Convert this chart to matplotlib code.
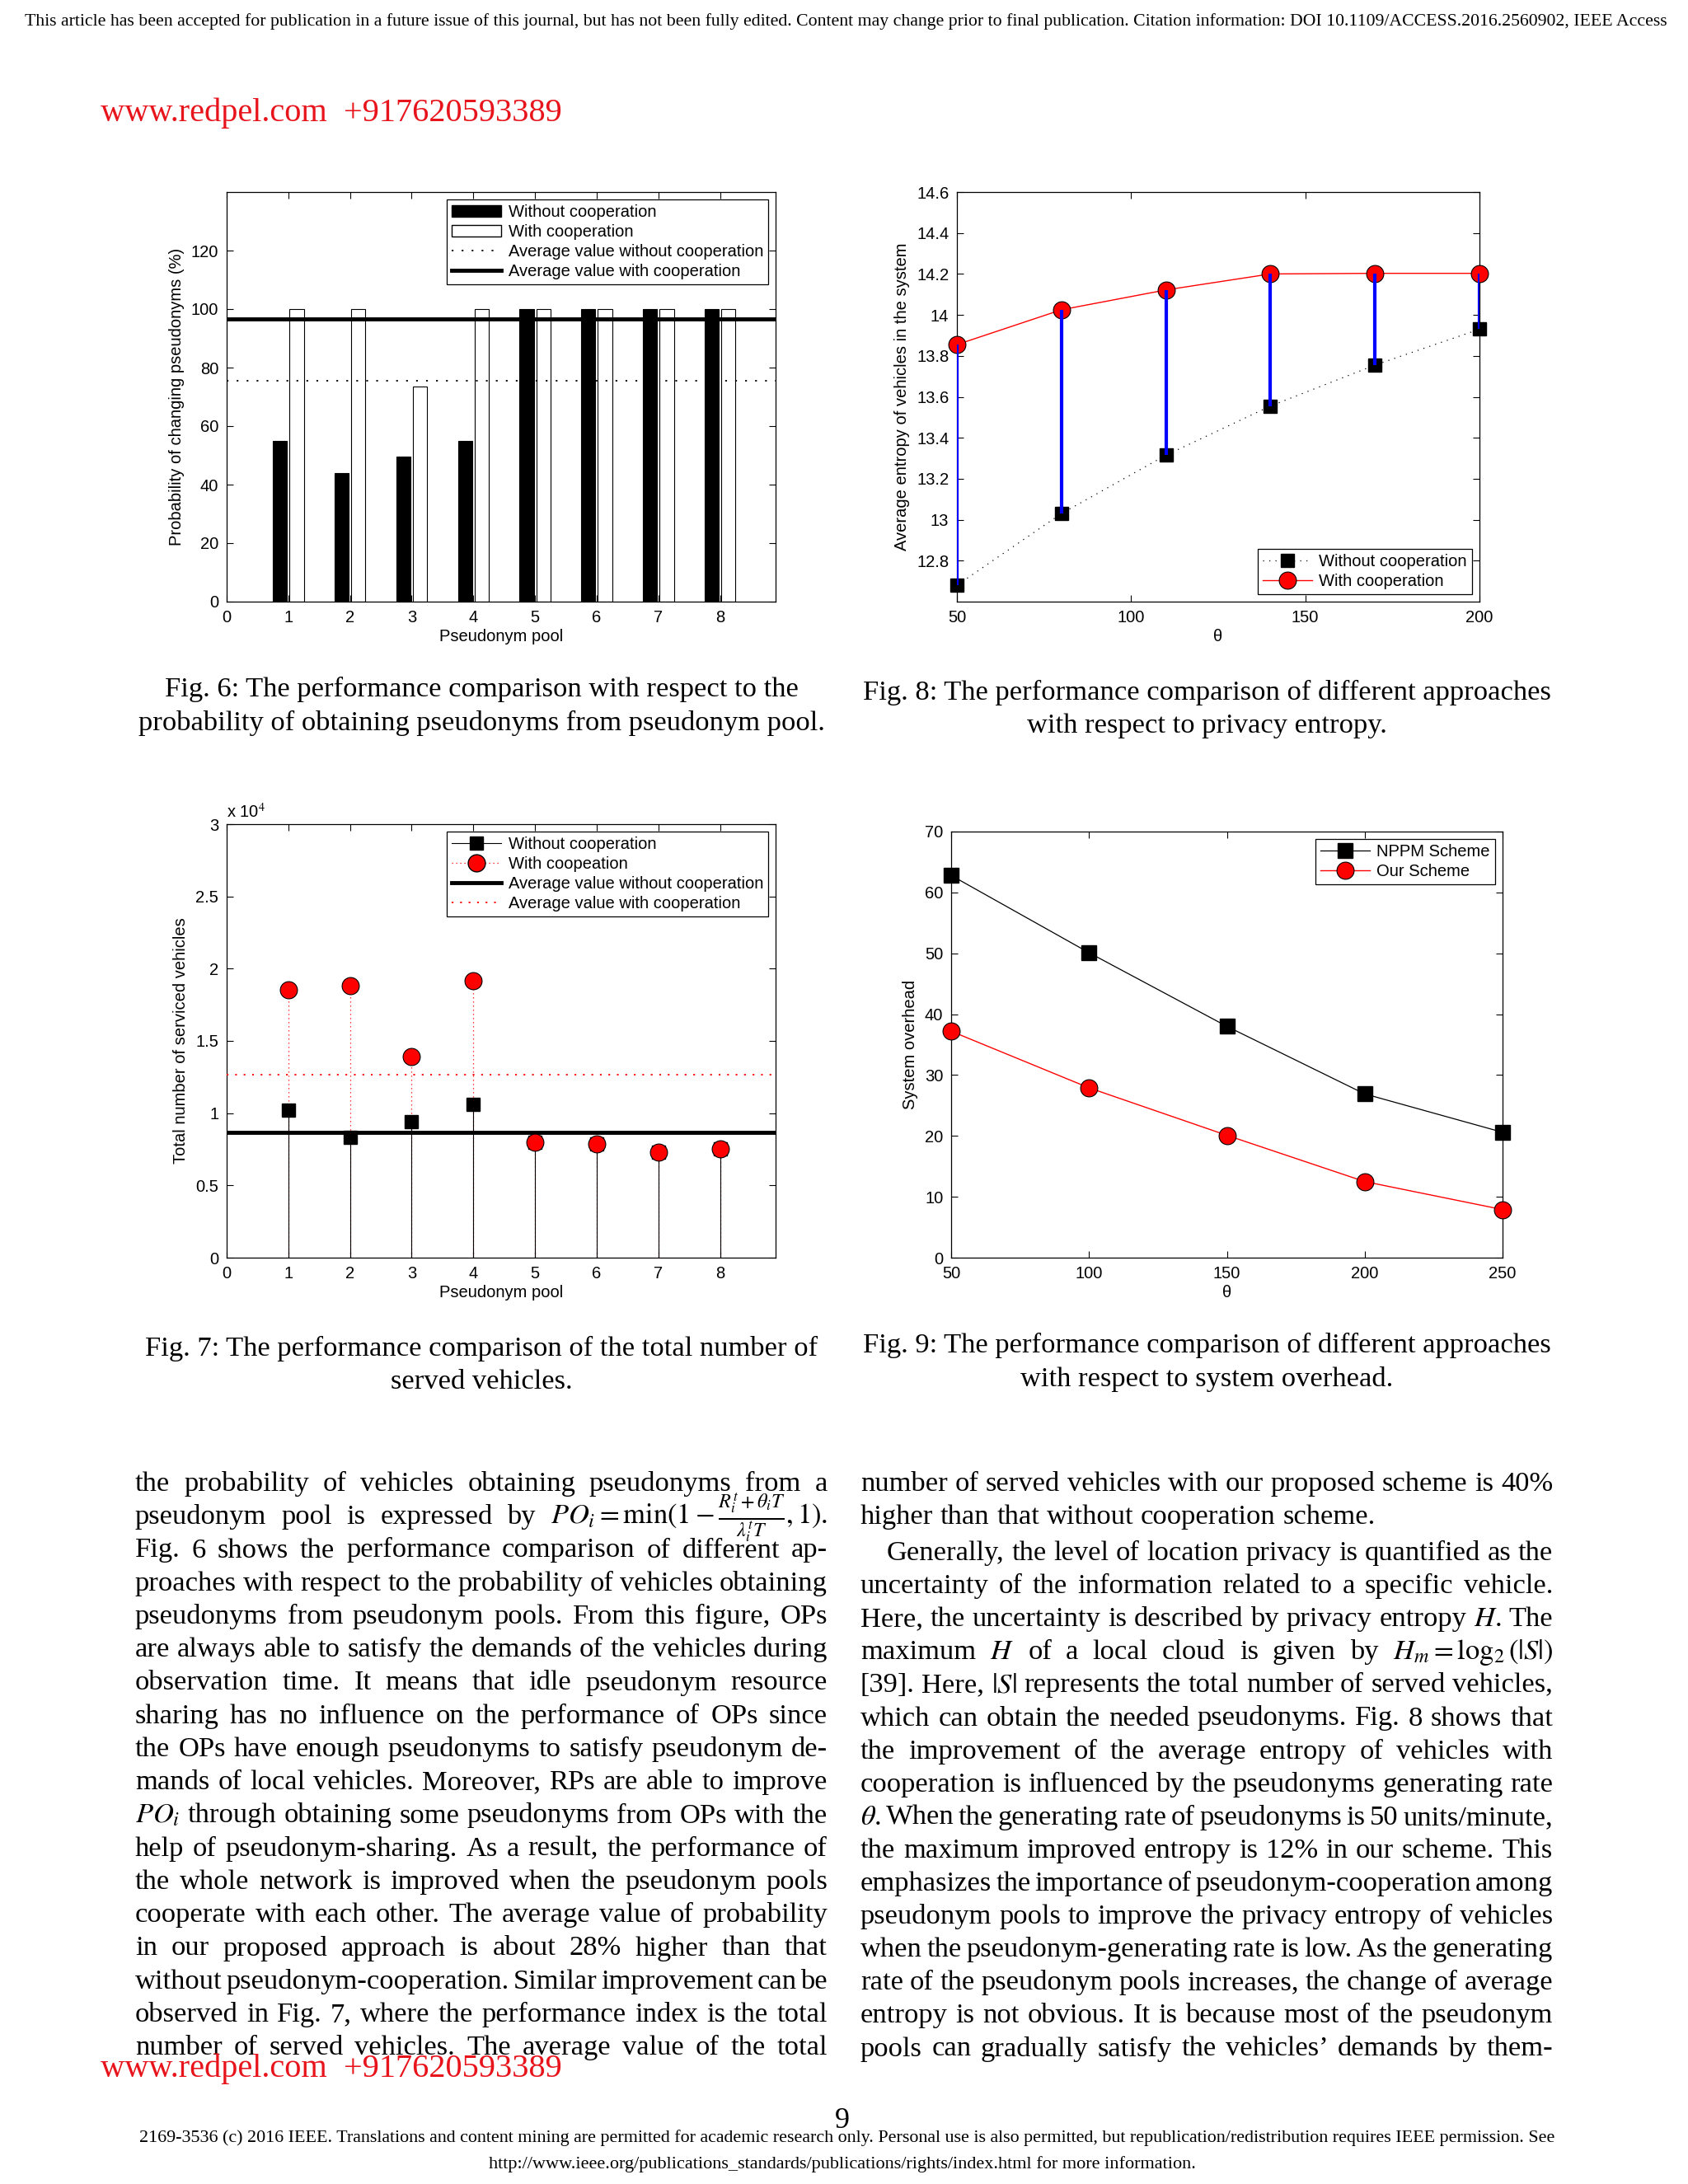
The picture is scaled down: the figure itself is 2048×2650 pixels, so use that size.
import re
import numpy as np
import matplotlib
matplotlib.use('Agg')
import matplotlib.pyplot as plt
from matplotlib.lines import Line2D
from matplotlib.patches import Patch
from matplotlib.legend_handler import HandlerLine2D
from matplotlib.ticker import FormatStrFormatter, FuncFormatter

W, H = 2048, 2650

# Fig. 6 - probability of changing pseudonyms (%)
pools = np.arange(1, 9)
prob_without = [55, 44, 49.5, 55, 100, 100, 100, 100]
prob_with = [100, 100, 73.5, 100, 100, 100, 100, 100]

# Fig. 8 - average entropy vs theta
theta_entropy = [50, 80, 110, 140, 170, 200]
entropy_without = [12.68, 13.03, 13.315, 13.555, 13.755, 13.93]
entropy_with = [13.855, 14.025, 14.122, 14.2, 14.203, 14.203]

# Fig. 7 - total number of served vehicles
served_without = [10210, 8340, 9400, 10590, 7960, 7890, 7280, 7530]
served_with = [18550, 18840, 13930, 19160, 7960, 7890, 7280, 7530]

# Fig. 9 - system overhead vs theta
theta_overhead = [50, 100, 150, 200, 250]
overhead_nppm = [62.8, 50.1, 38.0, 26.9, 20.6]
overhead_ours = [37.2, 27.9, 20.1, 12.5, 7.9]

plt.rcParams['font.family'] = 'Liberation Sans'
plt.rcParams['mathtext.fontset'] = 'stix'

CHART = 14.5
BODY = 24.8
SERIF = 'Liberation Serif'

fig = plt.figure(figsize=(W / 100, H / 100), dpi=100)
fig.patch.set_facecolor('white')
renderer = fig.canvas.get_renderer()


def fx(x):
    return x / W


def fy(y):
    return 1 - y / H


def put(x, y, s, **kw):
    return fig.text(fx(x), fy(y), s, **kw)


def width_of(t):
    return t.get_window_extent(renderer).width


def fit_text(s, x0, x1, y, color='black', family=SERIF):
    t = put(x0, y, s, fontsize=10, family=family, color=color, va='baseline')
    t.set_fontsize(10 * (x1 - x0) / width_of(t))
    return t


# a word, or a $...$ chunk with whatever punctuation sticks to it
TOKEN = re.compile(r'[^\s$]*\$[^$]*\$\S*|\S+')


def body_line(s, x0, x1, y, justify=True, indent=0):
    words = TOKEN.findall(s)
    objs = [put(0, y, w, fontsize=BODY, family=SERIF, va='baseline') for w in words]
    widths = [width_of(o) for o in objs]
    start = x0 + indent
    if justify and len(words) > 1:
        gap = (x1 - start - sum(widths)) / (len(words) - 1)
    else:
        gap = 0.25 * BODY * 100 / 72
    x = start
    for o, w in zip(objs, widths):
        o.set_x(fx(x))
        x += w + gap


def axes_px(left, top, right, bottom):
    return fig.add_axes([left / W, 1 - bottom / H, (right - left) / W, (bottom - top) / H])


def matlab_style(ax):
    ax.tick_params(direction='in', top=True, right=True, length=6, width=0.8,
                   labelsize=CHART, pad=7)
    for s in ax.spines.values():
        s.set_linewidth(0.9)


class MarkerRight(HandlerLine2D):
    # stem-style legend entry: marker sits near the right end of the line
    def get_xdata(self, legend, xdescent, ydescent, width, height, fontsize):
        xdata, _ = super().get_xdata(legend, xdescent, ydescent, width, height, fontsize)
        return xdata, np.array([-xdescent + 0.72 * width])


def legend(ax, handles, labels, loc, handler_map=None):
    lg = ax.legend(handles, labels, loc=loc, fontsize=CHART, frameon=True, fancybox=False,
                   framealpha=1, edgecolor='black', borderpad=0.3, labelspacing=0.25,
                   handletextpad=0.4, borderaxespad=0.45, handlelength=3.0,
                   handler_map=handler_map)
    lg.get_frame().set_linewidth(0.9)
    return lg


# ---------------- page header / watermark ----------------
fit_text('This article has been accepted for publication in a future issue of this journal, '
         'but has not been fully edited. Content may change prior to final publication. '
         'Citation information: DOI 10.1109/ACCESS.2016.2560902, IEEE Access', 30, 2019, 31)
fit_text('www.redpel.com  +917620593389', 122, 681, 147, color='#e8141b')

# ---------------- Fig. 6 ----------------
ax6 = axes_px(275, 233, 941, 730)
bw = 0.23
ax6.bar(pools - 0.135, prob_without, bw, color='black', edgecolor='black', linewidth=0.8, zorder=2)
ax6.bar(pools + 0.135, prob_with, bw, color='white', edgecolor='black', linewidth=0.8, zorder=2)
dots = (0, (1.2, 5.5))
ax6.axhline(np.mean(prob_without), color='black', ls=dots, lw=1.3, zorder=3)
ax6.axhline(np.mean(prob_with), color='black', lw=3.5, zorder=3)
ax6.set_xlim(0, 8.9)
ax6.set_ylim(0, 140)
ax6.set_xticks(range(0, 9))
ax6.set_yticks(range(0, 121, 20))
matlab_style(ax6)
ax6.set_xlabel('Pseudonym pool', fontsize=CHART, labelpad=3)
ax6.set_ylabel('Probability of changing pseudonyms (%)', fontsize=CHART, labelpad=6)
legend(ax6,
       [Patch(facecolor='black', edgecolor='black'),
        Patch(facecolor='white', edgecolor='black'),
        Line2D([], [], color='black', ls=dots, lw=1.3),
        Line2D([], [], color='black', lw=3.5)],
       ['Without cooperation', 'With cooperation',
        'Average value without cooperation', 'Average value with cooperation'],
       'upper right')

# ---------------- Fig. 8 ----------------
ax8 = axes_px(1161, 233, 1795, 730)
ax8.plot(theta_entropy, entropy_without, ls=(0, (1, 5)), color='black', lw=0.9,
         marker='s', ms=12, mfc='black', mec='black', clip_on=False, zorder=3)
ax8.plot(theta_entropy, entropy_with, '-', color='red', lw=1.0, marker='o', ms=15,
         mfc='red', mec='black', mew=0.8, clip_on=False, zorder=3)
ax8.vlines(theta_entropy, entropy_without, entropy_with, color='blue', lw=3, zorder=4)
ax8.set_xlim(50, 200)
ax8.set_ylim(12.6, 14.6)
ax8.set_xticks([50, 100, 150, 200])
ax8.set_yticks(np.arange(12.8, 14.61, 0.2))
ax8.yaxis.set_major_formatter(FormatStrFormatter('%g'))
matlab_style(ax8)
ax8.set_xlabel('θ', fontsize=CHART, labelpad=3)
ax8.set_ylabel('Average entropy of vehicles in the system', fontsize=CHART, labelpad=6)
legend(ax8,
       [Line2D([], [], ls=(0, (1, 5)), color='black', lw=0.9, marker='s', ms=12, mfc='black'),
        Line2D([], [], color='red', lw=1.0, marker='o', ms=15, mfc='red', mec='black', mew=0.8)],
       ['Without cooperation', 'With cooperation'], 'lower right')

# ---------------- Fig. 7 ----------------
ax7 = axes_px(275, 1000, 941, 1526)
red_dots = (0, (1, 3))
ax7.vlines(pools, 0, served_with, color='red', ls=red_dots, lw=0.9, zorder=2)
ax7.vlines(pools, 0, served_without, color='black', lw=0.8, zorder=2)
ax7.axhline(np.mean(served_without), color='black', lw=3.5, zorder=3)
ax7.axhline(np.mean(served_with), color='red', ls=(0, (1.2, 4.5)), lw=1.3, zorder=3)
ax7.plot(pools, served_without, 's', color='black', ms=12, zorder=4)
ax7.plot(pools, served_with, 'o', mfc='red', mec='black', mew=0.8, ms=15, zorder=5)
ax7.set_xlim(0, 8.9)
ax7.set_ylim(0, 30000)
ax7.set_xticks(range(0, 9))
ax7.set_yticks(np.arange(0, 30001, 5000))
ax7.yaxis.set_major_formatter(FuncFormatter(lambda v, p: f'{v / 1e4:g}'))
matlab_style(ax7)
ax7.text(0, 1.008, 'x 10$^{4}$', transform=ax7.transAxes, fontsize=CHART, va='bottom', ha='left')
ax7.set_xlabel('Pseudonym pool', fontsize=CHART, labelpad=3)
ax7.set_ylabel('Total number of serviced vehicles', fontsize=CHART, labelpad=6)
stem_black = Line2D([], [], color='black', lw=0.8, marker='s', ms=12, mfc='black')
stem_red = Line2D([], [], color='red', ls=red_dots, lw=0.9, marker='o', ms=15, mfc='red', mec='black')
legend(ax7,
       [stem_black, stem_red,
        Line2D([], [], color='black', lw=3.5),
        Line2D([], [], color='red', ls=(0, (1.2, 4.5)), lw=1.3)],
       ['Without cooperation', 'With coopeation',
        'Average value without cooperation', 'Average value with cooperation'],
       'upper right', handler_map={stem_black: MarkerRight(), stem_red: MarkerRight()})

# ---------------- Fig. 9 ----------------
ax9 = axes_px(1154, 1009, 1823, 1526)
ax9.plot(theta_overhead, overhead_nppm, '-', color='black', lw=0.9, marker='s', ms=13,
         mfc='black', mec='black', clip_on=False, zorder=3)
ax9.plot(theta_overhead, overhead_ours, '-', color='red', lw=1.0, marker='o', ms=15,
         mfc='red', mec='black', mew=0.8, clip_on=False, zorder=3)
ax9.set_xlim(50, 250)
ax9.set_ylim(0, 70)
ax9.set_xticks(range(50, 251, 50))
ax9.set_yticks(range(0, 71, 10))
matlab_style(ax9)
ax9.set_xlabel('θ', fontsize=CHART, labelpad=3)
ax9.set_ylabel('System overhead', fontsize=CHART, labelpad=6)
legend(ax9,
       [Line2D([], [], color='black', lw=0.9, marker='s', ms=13, mfc='black'),
        Line2D([], [], color='red', lw=1.0, marker='o', ms=15, mfc='red', mec='black', mew=0.8)],
       ['NPPM Scheme', 'Our Scheme'], 'upper right')

# ---------------- captions ----------------
captions = [
    (584, [845, 886], ['Fig. 6: The performance comparison with respect to the',
                       'probability of obtaining pseudonyms from pseudonym pool.']),
    (1464, [849, 889], ['Fig. 8: The performance comparison of different approaches',
                        'with respect to privacy entropy.']),
    (584, [1645, 1685], ['Fig. 7: The performance comparison of the total number of',
                         'served vehicles.']),
    (1464, [1641, 1682], ['Fig. 9: The performance comparison of different approaches',
                          'with respect to system overhead.']),
]
for cx, ys, texts in captions:
    for y, s in zip(ys, texts):
        put(cx, y, s, fontsize=BODY, family=SERIF, ha='center', va='baseline')

# ---------------- body text ----------------
left_lines = [
    'the probability of vehicles obtaining pseudonyms from a',
    r'pseudonym pool is expressed by $PO_i = \min(1 - \frac{R_i^t+\theta_i T}{\lambda_i^t T}, 1)$.',
    'Fig. 6 shows the performance comparison of different ap-',
    'proaches with respect to the probability of vehicles obtaining',
    'pseudonyms from pseudonym pools. From this figure, OPs',
    'are always able to satisfy the demands of the vehicles during',
    'observation time. It means that idle pseudonym resource',
    'sharing has no influence on the performance of OPs since',
    'the OPs have enough pseudonyms to satisfy pseudonym de-',
    'mands of local vehicles. Moreover, RPs are able to improve',
    r'$PO_i$ through obtaining some pseudonyms from OPs with the',
    'help of pseudonym-sharing. As a result, the performance of',
    'the whole network is improved when the pseudonym pools',
    'cooperate with each other. The average value of probability',
    'in our proposed approach is about 28% higher than that',
    'without pseudonym-cooperation. Similar improvement can be',
    'observed in Fig. 7, where the performance index is the total',
    'number of served vehicles. The average value of the total',
]
right_lines = [
    'number of served vehicles with our proposed scheme is 40%',
    'higher than that without cooperation scheme.',
    'Generally, the level of location privacy is quantified as the',
    'uncertainty of the information related to a specific vehicle.',
    'Here, the uncertainty is described by privacy entropy $H$. The',
    r'maximum $H$ of a local cloud is given by $H_m = \log_2(|S|)$',
    r'[39]. Here, $|S|$ represents the total number of served vehicles,',
    'which can obtain the needed pseudonyms. Fig. 8 shows that',
    'the improvement of the average entropy of vehicles with',
    'cooperation is influenced by the pseudonyms generating rate',
    r'$\theta$. When the generating rate of pseudonyms is 50 units/minute,',
    'the maximum improved entropy is 12% in our scheme. This',
    'emphasizes the importance of pseudonym-cooperation among',
    'pseudonym pools to improve the privacy entropy of vehicles',
    'when the pseudonym-generating rate is low. As the generating',
    'rate of the pseudonym pools increases, the change of average',
    'entropy is not obvious. It is because most of the pseudonym',
    'pools can gradually satisfy the vehicles\u2019 demands by them-',
]

for i, s in enumerate(left_lines):
    body_line(s, 164, 1004, 1809 + i * 40.25)

right_y = [1809, 1849] + [1893 + k * 40.1 for k in range(16)]
for i, s in enumerate(right_lines):
    body_line(s, 1044, 1884, right_y[i], justify=(i != 1), indent=32 if i == 2 else 0)

# ---------------- footer ----------------
fit_text('www.redpel.com  +917620593389', 122, 681, 2520, color='#e8141b')
put(1022, 2582, '9', fontsize=26, family=SERIF, ha='center', va='baseline')
fit_text('2169-3536 (c) 2016 IEEE. Translations and content mining are permitted for academic '
         'research only. Personal use is also permitted, but republication/redistribution requires '
         'IEEE permission. See', 169, 1881, 2599)
fit_text('http://www.ieee.org/publications_standards/publications/rights/index.html '
         'for more information.', 593, 1453, 2631)

fig.savefig('out.png', dpi=100)
